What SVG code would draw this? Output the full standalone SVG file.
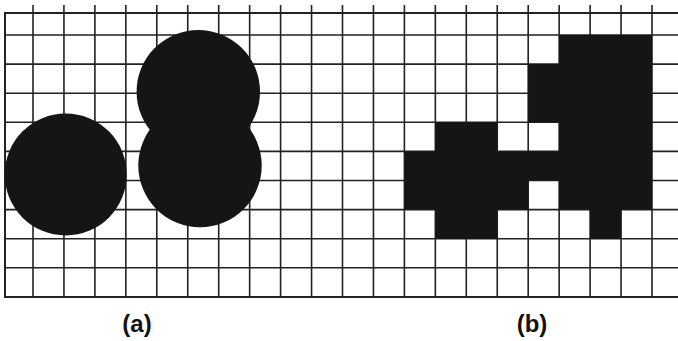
<svg xmlns="http://www.w3.org/2000/svg" width="678" height="341" viewBox="0 0 678 341">
<style>
.g{stroke:#222;stroke-width:1.6;fill:none}
.b{stroke:#222;stroke-width:2;fill:none}
.f{fill:#151515;stroke:none}
.lbl{font-family:"Liberation Sans",Arial,sans-serif;font-weight:bold;font-size:24px;fill:#111;text-anchor:middle}
</style>
<rect width="678" height="341" fill="#fff"/>
<g id="grid">
<path class="g" d="M33,5V297M63.95,5V297M94.9,5V297M125.85,5V297M156.8,5V297M187.75,5V297M218.7,5V297M249.65,5V297M280.6,5V297M311.55,5V297M342.5,5V297M373.45,5V297M404.4,5V297M435.35,5V297M466.3,5V297M497.25,5V297M528.2,5V297M559.15,5V297M590.1,5V297M621.05,5V297M652,5V297"/>
<path class="g" d="M5,35H678M5,64.1H678M5,93.2H678M5,122.3H678M5,151.4H678M5,180.5H678M5,209.6H678M5,238.7H678M5,267.8H678"/>
<path class="b" d="M5,13H678M5,297H678M5,12V298"/>
</g>
<g id="panel-a">
<circle class="f" cx="65.7" cy="174.5" r="61"/>
<circle class="f" cx="198.3" cy="91.7" r="61.7"/>
<circle class="f" cx="200" cy="165.5" r="61.7"/>
</g>
<g id="panel-b">
<path class="f" d="M559.15,35H652V209.6H621.05V238.7H590.1V209.6H559.15V180.5H528.2V209.6H497.25V238.7H435.35V209.6H404.4V151.4H435.35V122.3H497.25V151.4H559.15V122.3H528.2V64.1H559.15Z"/>
</g>
<g id="labels">
<text class="lbl" x="137" y="332">(a)</text>
<text class="lbl" x="532" y="332">(b)</text>
</g>
</svg>
